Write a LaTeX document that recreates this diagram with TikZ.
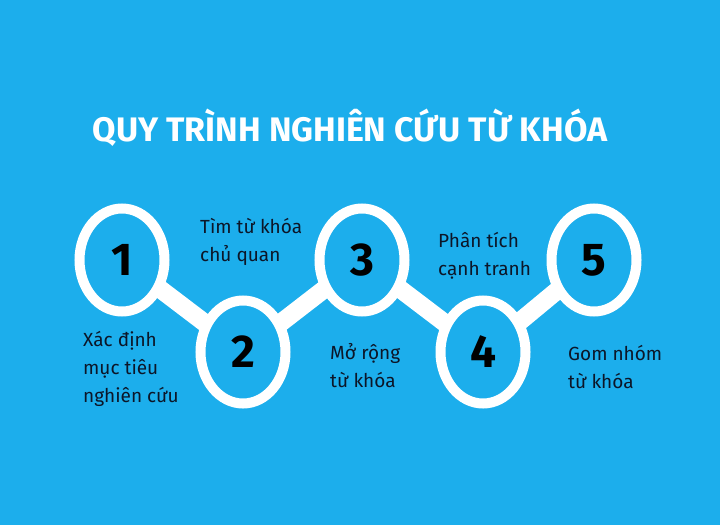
\documentclass[tikz,border=0pt]{standalone}
\usepackage{fontspec}
\setmainfont{Fira Sans}
\usetikzlibrary{shapes.geometric}
\definecolor{sky}{RGB}{28,174,236}
\definecolor{ink}{RGB}{12,22,40}
\tikzset{
  ring/.style={ellipse,draw=white,fill=sky,line width=10pt,minimum width=85pt,minimum height=103pt,
    text=black,font=\fontsize{46}{46}\selectfont\bfseries},
  bar/.style={white,line width=18pt},
  caption/.style={align=left,anchor=west,text=ink,font=\fontsize{19}{28}\selectfont,inner sep=0pt}
}
\begin{document}
\begin{tikzpicture}[x=1pt,y=-1pt]
\fill[sky] (0,0) rectangle (720,525);
\useasboundingbox (0,0) rectangle (720,525);
\node[text=white,font=\fontsize{34}{34}\selectfont\bfseries] (title) at (350,128) {QUY TRÌNH NGHIÊN CỨU TỪ KHÓA};
% the chain
\coordinate (p1) at (122,260);
\coordinate (p2) at (243,352);
\coordinate (p3) at (362,260);
\coordinate (p4) at (483,352);
\coordinate (p5) at (594,260);
\draw[bar] (p1) -- (p2) -- (p3) -- (p4) -- (p5);
\node[ring] (s1) at (p1) {1};
\node[ring] (s2) at (p2) {2};
\node[ring] (s3) at (p3) {3};
\node[ring] (s4) at (p4) {4};
\node[ring] (s5) at (p5) {5};
% captions
\node[caption] (c1) at (83,369) {Xác định\\mục tiêu\\nghiên cứu};
\node[caption] (c2) at (200,242) {Tìm từ khóa\\chủ quan};
\node[caption] (c3) at (330,366) {Mở rộng\\từ khóa};
\node[caption] (c4) at (438,256) {Phân tích\\cạnh tranh};
\node[caption] (c5) at (568,367) {Gom nhóm\\từ khóa};
\end{tikzpicture}
\end{document}
